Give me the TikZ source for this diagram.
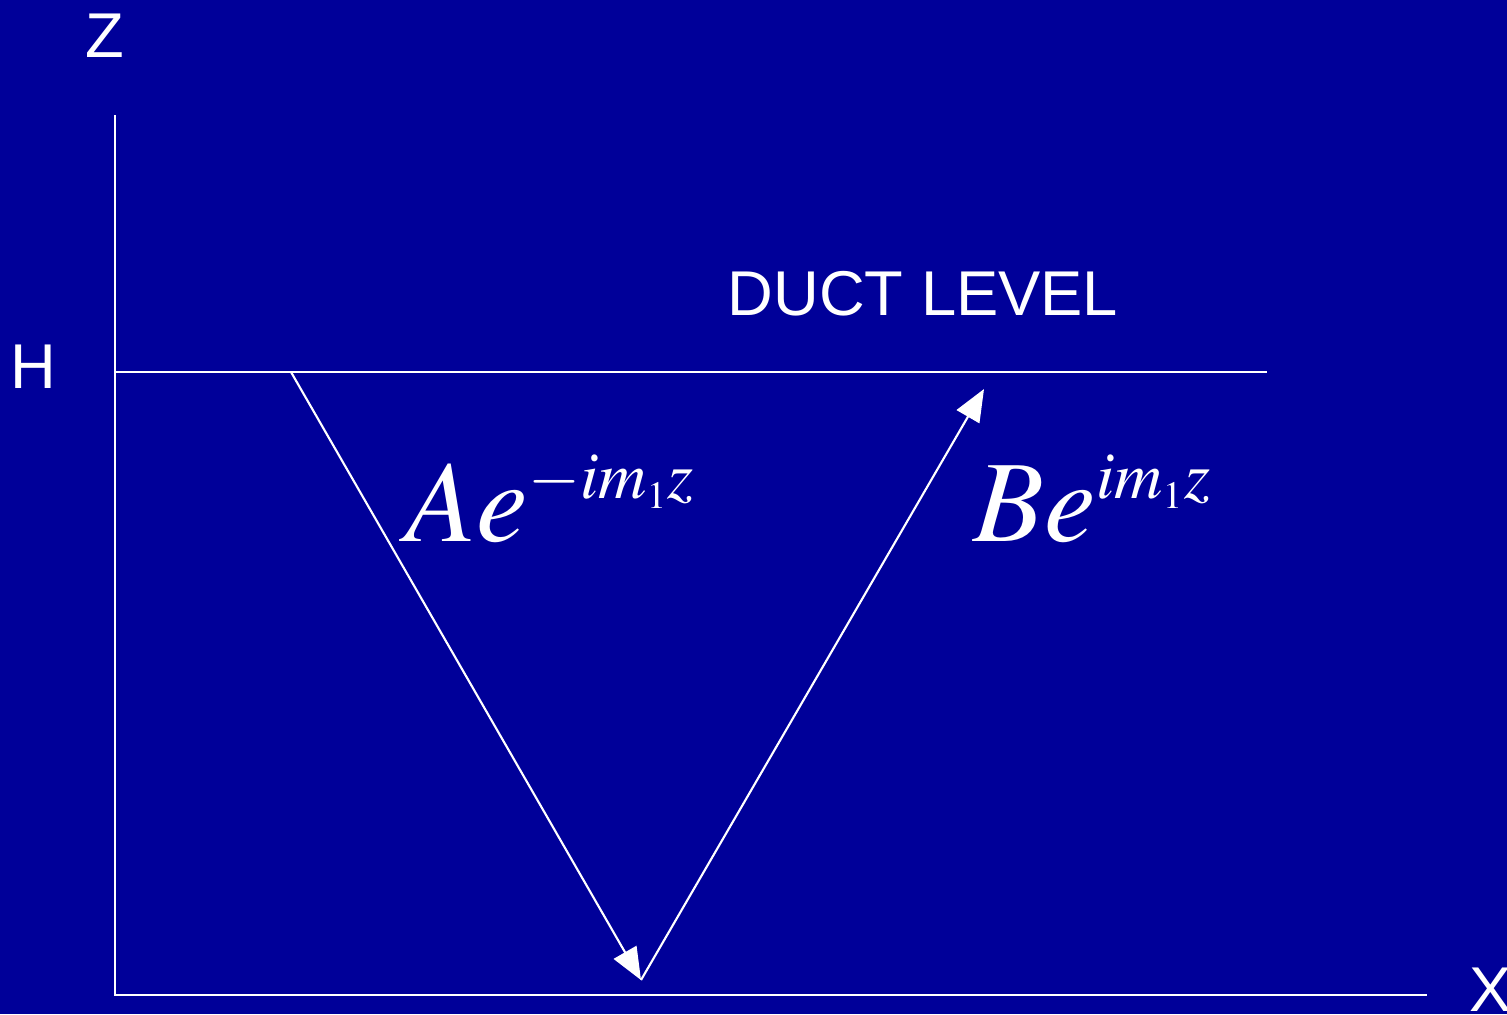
\documentclass[tikz,border=0pt]{standalone}
\usepackage{mathptmx}
\usepackage{fontspec}
\setsansfont{Liberation Sans}
\usetikzlibrary{arrows.meta}
\DeclareMathSizes{33}{33}{19}{11}
\definecolor{bgblue}{RGB}{0,0,153}
\tikzstyle{axislabel} = [text=white, font=\sffamily\fontsize{18}{22}\selectfont, anchor=base, inner sep=0pt]
\tikzstyle{wavelabel} = [text=white, font=\fontsize{33}{40}\selectfont, anchor=base west, inner sep=0pt]
\tikzstyle{line} = [white, line width=0.6pt]
\tikzstyle{ray} = [white, line width=0.6pt, -{Triangle[length=0.32cm,width=0.26cm]}]

\begin{document}
\begin{tikzpicture}[x=0.01cm, y=-0.01cm]

        % Background
        \fill[bgblue] (0,0) rectangle (1507,1014);
        \useasboundingbox (0,0) rectangle (1507,1014);

        % Axes
        \coordinate (origin) at (115,995);
        \coordinate (ztop) at (115,115);
        \coordinate (xend) at (1427,995);
        \coordinate (ductL) at (115,372);
        \coordinate (ductR) at (1267,372);
        \node (zlab) [axislabel] at (105,57) {Z};
        \node (xlab) [axislabel] at (1491,1011) {X};
        \node (hlab) [axislabel] at (33,388) {H};
        \node (duct) [axislabel] at (923,315) {DUCT LEVEL};

        \draw [line] (ztop) -- (origin) -- (xend);
        \draw [line] (ductL) -- (ductR);

        % Rays
        \coordinate (src) at (291,372);
        \coordinate (bot) at (641,980);
        \coordinate (top) at (984,389);
        \draw [ray] (src) -- (bot);
        \draw [ray] (bot) -- (top);

        \node (down) [wavelabel] at (405,541) {$Ae^{-im_1z}$};
        \node (up) [wavelabel] at (973,541) {$Be^{im_1z}$};

    \end{tikzpicture}
\end{document}
